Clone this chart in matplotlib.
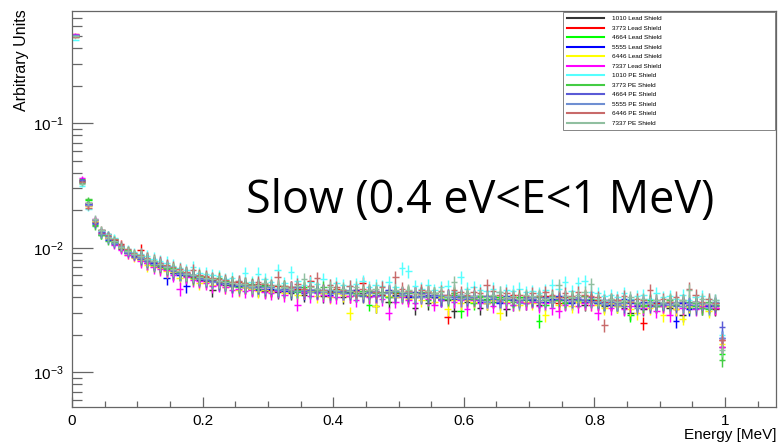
import matplotlib
matplotlib.use("Agg")

import matplotlib.pyplot as plt
import numpy as np
from matplotlib.lines import Line2D
from matplotlib.ticker import FixedLocator, FuncFormatter, LogLocator, NullFormatter

plt.rcParams["font.family"] = ["Liberation Sans", "DejaVu Sans"]
plt.rcParams["mathtext.fontset"] = "custom"
plt.rcParams["mathtext.rm"] = "Liberation Sans"
plt.rcParams["mathtext.it"] = "Liberation Sans"

# 100 energy bins of 0.01 MeV, values in units of 1e-3
bin_edges = np.linspace(0.0, 1.0, 101)

lead_1010 = [
    505, 34.5, 22, 16, 13.8, 12.8, 10.9, 9.8, 9.1, 8.6,
    8.1, 7.6, 7.4, 7.0, 6.9, 6.3, 6.2, 5.9, 5.9, 5.5,
    5.4, 4.6, 5.3, 5.0, 4.9, 5.0, 4.8, 4.7, 4.9, 4.5,
    4.6, 4.4, 4.7, 4.3, 4.5, 4.2, 4.6, 4.4, 4.1, 4.5,
    4.3, 4.0, 4.4, 4.2, 4.3, 4.1, 3.4, 4.2, 3.7, 4.2,
    4.1, 4.0, 3.3, 4.3, 3.6, 4.0, 3.9, 3.8, 3.1, 4.0,
    3.7, 3.9, 3.3, 3.6, 3.9, 3.7, 3.2, 3.8, 3.9, 3.6,
    3.8, 3.5, 3.9, 3.7, 3.8, 3.6, 3.9, 3.7, 3.5, 3.8,
    3.6, 3.4, 3.6, 3.5, 3.3, 3.0, 3.6, 3.2, 3.5, 3.4,
    3.5, 3.3, 3.6, 2.9, 3.4, 3.5, 3.3, 3.4, 3.2, 1.6,
]
lead_3773 = [
    510, 35, 23, 16.6, 13.2, 12.0, 11.5, 10.8, 9.4, 8.8,
    9.6, 8.2, 7.5, 7.3, 7.1, 6.6, 6.5, 6.3, 5.8, 5.7,
    5.8, 5.5, 5.3, 5.2, 5.1, 5.3, 4.8, 5.0, 5.1, 4.7,
    4.6, 4.9, 4.5, 4.8, 4.7, 4.4, 5.4, 4.6, 4.5, 4.4,
    4.7, 4.5, 4.1, 4.6, 5.2, 4.4, 4.5, 4.2, 4.4, 4.3,
    4.4, 4.1, 4.3, 4.2, 4.5, 4.0, 4.2, 2.8, 4.3, 3.9,
    4.1, 4.0, 3.8, 4.1, 3.7, 4.0, 3.9, 4.2, 3.8, 3.9,
    4.0, 3.7, 4.1, 3.8, 3.6, 4.0, 3.8, 3.9, 4.1, 3.7,
    3.8, 3.7, 3.5, 3.8, 3.6, 3.7, 3.4, 2.5, 3.5, 3.6,
    3.4, 3.7, 3.2, 3.6, 3.5, 3.7, 3.4, 3.6, 3.3, 1.8,
]
lead_4664 = [
    500, 36, 24, 15.2, 12.6, 12.4, 11.8, 10.3, 9.6, 8.9,
    8.6, 8.1, 7.8, 7.1, 6.8, 6.9, 6.3, 6.0, 6.1, 5.9,
    5.7, 5.6, 5.2, 5.4, 5.0, 4.9, 5.2, 4.8, 4.7, 5.0,
    4.9, 4.6, 4.8, 4.5, 4.4, 4.8, 4.5, 4.7, 4.3, 4.6,
    4.4, 4.6, 4.3, 4.2, 4.5, 3.5, 4.4, 4.3, 4.0, 4.4,
    4.2, 4.4, 4.0, 4.1, 3.8, 4.3, 3.9, 4.0, 4.2, 3.1,
    4.0, 3.6, 4.1, 3.9, 3.7, 4.0, 3.8, 3.5, 4.0, 3.8,
    3.7, 2.6, 3.5, 3.9, 3.8, 3.6, 4.0, 3.8, 3.7, 3.9,
    3.7, 3.5, 3.8, 3.4, 3.7, 2.9, 3.6, 3.5, 3.8, 3.4,
    3.6, 3.4, 3.5, 3.7, 3.3, 3.4, 3.6, 3.2, 3.5, 1.4,
]
lead_5555 = [
    515, 34, 22.5, 15.8, 12.8, 11.6, 11.3, 10.0, 9.2, 8.7,
    8.4, 7.9, 7.5, 7.5, 5.7, 6.3, 6.1, 4.9, 6.0, 5.6,
    5.5, 5.6, 5.1, 5.2, 5.0, 4.9, 5.1, 4.7, 4.6, 4.9,
    4.7, 4.6, 4.5, 4.7, 4.8, 4.3, 4.6, 4.4, 4.6, 4.2,
    4.5, 4.3, 4.5, 4.6, 4.2, 4.4, 4.1, 4.3, 4.6, 4.0,
    4.3, 4.0, 4.4, 4.1, 4.2, 4.0, 3.8, 4.1, 3.9, 4.2,
    3.9, 4.1, 3.7, 3.8, 4.0, 3.6, 4.1, 3.8, 3.7, 3.9,
    3.8, 4.0, 3.7, 3.9, 4.1, 3.8, 3.6, 3.9, 3.7, 3.8,
    3.6, 3.8, 3.5, 3.7, 3.9, 3.6, 3.4, 3.7, 3.6, 3.5,
    3.6, 3.5, 2.6, 3.6, 3.2, 3.7, 3.5, 3.4, 3.6, 1.9,
]
lead_6446 = [
    520, 33.5, 21.5, 16.4, 13.0, 11.9, 10.7, 9.9, 8.8, 8.3,
    8.0, 7.3, 7.2, 6.9, 6.5, 6.4, 5.7, 6.0, 5.6, 5.2,
    5.3, 5.0, 5.2, 4.8, 4.9, 4.6, 4.8, 4.7, 4.5, 4.6,
    4.4, 4.6, 4.3, 4.5, 4.2, 4.4, 4.5, 4.1, 4.3, 4.0,
    4.3, 4.2, 3.0, 4.3, 4.1, 4.2, 3.4, 4.3, 4.1, 4.0,
    4.1, 3.9, 4.0, 3.8, 4.1, 3.7, 4.0, 3.2, 3.8, 3.6,
    3.8, 3.7, 3.9, 3.6, 3.8, 3.0, 3.7, 3.9, 3.5, 3.7,
    3.6, 3.8, 2.9, 3.7, 3.5, 3.9, 3.4, 3.7, 3.6, 3.5,
    3.5, 3.3, 3.6, 3.4, 3.5, 3.2, 3.0, 3.4, 3.3, 3.5,
    2.9, 3.4, 3.2, 2.7, 3.4, 3.3, 3.5, 3.1, 3.4, 1.7,
]
lead_7337 = [
    525, 36.5, 22, 16.9, 13.4, 12.1, 10.6, 9.6, 8.7, 8.4,
    7.8, 7.5, 7.0, 6.8, 6.6, 6.0, 4.7, 5.8, 5.5, 5.4,
    5.2, 4.9, 5.0, 4.8, 4.6, 4.7, 4.5, 4.6, 4.8, 4.4,
    4.3, 4.5, 4.2, 4.6, 3.5, 4.4, 4.1, 4.3, 4.2, 4.1,
    4.0, 4.3, 4.1, 3.8, 4.2, 4.0, 4.1, 3.9, 3.0, 3.7,
    4.0, 3.8, 3.6, 4.0, 3.9, 3.5, 3.8, 4.1, 3.7, 3.8,
    3.2, 3.8, 3.6, 3.7, 3.4, 3.8, 3.6, 3.5, 3.7, 3.6,
    3.7, 3.4, 3.6, 3.3, 3.1, 3.5, 3.8, 3.4, 3.6, 3.5,
    3.0, 3.6, 3.3, 3.5, 3.2, 3.4, 3.5, 3.3, 3.4, 3.1,
    3.4, 2.9, 3.5, 3.3, 3.6, 3.2, 3.4, 3.5, 3.3, 1.6,
]
pe_1010 = [
    470, 31.5, 20.5, 16.0, 13.6, 12.8, 12.0, 10.6, 9.8, 9.3,
    8.9, 8.6, 8.2, 7.8, 7.6, 7.2, 6.9, 6.6, 7.0, 6.3,
    6.2, 6.0, 5.9, 5.6, 5.7, 5.4, 6.3, 5.3, 6.2, 5.6,
    5.3, 6.6, 5.2, 6.4, 5.4, 5.0, 5.3, 5.1, 5.6, 5.0,
    5.2, 5.0, 4.9, 5.1, 5.4, 4.8, 5.0, 4.9, 5.3, 4.8,
    6.9, 6.5, 4.9, 4.7, 5.0, 4.6, 4.8, 4.9, 4.5, 5.8,
    4.7, 4.8, 4.6, 4.5, 4.7, 4.4, 4.6, 4.5, 4.7, 4.4,
    4.5, 4.3, 4.6, 5.0, 4.7, 5.3, 4.5, 5.2, 5.4, 4.4,
    4.3, 4.1, 4.2, 4.0, 4.3, 3.9, 4.1, 4.2, 3.9, 4.3,
    4.0, 4.1, 3.9, 4.2, 3.8, 4.0, 4.1, 3.9, 3.8, 2.0,
]
pe_3773 = [
    495, 33, 24.5, 15.0, 12.7, 11.4, 11.2, 10.1, 9.5, 8.9,
    8.4, 7.8, 7.3, 7.2, 6.9, 6.8, 6.4, 6.2, 5.7, 5.9,
    5.6, 5.4, 5.7, 5.1, 5.3, 4.8, 5.0, 5.1, 4.8, 4.9,
    4.8, 4.7, 4.9, 4.5, 4.6, 4.7, 4.4, 4.6, 4.8, 4.3,
    4.6, 4.4, 4.5, 4.3, 4.2, 4.5, 4.3, 4.4, 4.0, 4.4,
    4.2, 4.3, 4.1, 4.4, 4.0, 4.2, 4.1, 3.9, 4.3, 4.0,
    4.1, 3.9, 4.0, 3.8, 4.1, 3.9, 4.0, 3.7, 3.9, 4.0,
    3.9, 4.0, 3.8, 4.1, 3.9, 3.7, 4.0, 3.8, 4.1, 3.9,
    3.7, 3.6, 3.8, 3.5, 3.7, 3.8, 3.6, 3.4, 3.7, 3.5,
    3.6, 3.8, 3.5, 3.4, 3.7, 3.6, 3.3, 3.7, 3.5, 1.25,
]
pe_4664 = [
    515, 35, 23, 15.5, 13.3, 12.5, 10.8, 10.1, 9.0, 8.5,
    8.2, 7.9, 7.7, 7.2, 7.0, 6.5, 6.3, 6.1, 5.9, 5.7,
    5.5, 5.4, 5.2, 5.3, 4.9, 5.1, 4.9, 5.0, 4.8, 4.7,
    4.8, 4.6, 4.7, 4.4, 4.8, 4.5, 4.6, 4.4, 4.5, 4.3,
    4.4, 4.5, 4.3, 4.5, 4.1, 4.4, 4.2, 4.3, 4.4, 4.1,
    4.3, 4.2, 4.0, 4.3, 4.1, 4.2, 3.9, 4.2, 4.0, 4.1,
    3.9, 4.0, 3.8, 4.1, 3.9, 3.7, 4.0, 3.9, 3.8, 4.0,
    3.9, 3.7, 4.0, 3.8, 3.9, 4.1, 3.7, 3.9, 3.8, 4.0,
    3.7, 3.5, 3.7, 3.6, 3.4, 3.8, 3.5, 3.6, 3.4, 3.7,
    3.5, 3.6, 3.4, 3.7, 3.5, 3.3, 3.6, 3.5, 3.4, 2.3,
]
pe_5555 = [
    510, 34, 22, 16.8, 13.0, 11.8, 11.0, 10.4, 9.2, 8.7,
    8.5, 8.0, 7.4, 7.4, 7.1, 6.6, 6.2, 6.3, 6.0, 5.6,
    5.6, 5.3, 5.4, 5.1, 5.2, 5.0, 4.9, 4.8, 5.0, 4.8,
    4.9, 4.7, 4.6, 4.8, 4.5, 4.6, 4.4, 4.7, 4.4, 4.6,
    4.5, 4.3, 4.6, 4.2, 4.4, 4.3, 4.5, 4.1, 4.3, 4.5,
    4.2, 4.4, 4.1, 4.0, 4.3, 4.1, 4.2, 4.0, 4.1, 3.9,
    4.0, 4.1, 3.9, 3.7, 4.0, 3.8, 3.9, 4.0, 3.6, 3.9,
    4.0, 3.8, 3.9, 3.7, 4.0, 3.9, 3.8, 4.0, 3.9, 3.7,
    3.7, 3.6, 3.8, 3.5, 3.6, 3.7, 3.3, 3.6, 3.7, 3.5,
    3.6, 3.5, 3.7, 3.4, 3.6, 3.5, 3.6, 3.3, 3.7, 1.9,
]
pe_6446 = [
    490, 33.5, 21, 16.2, 14.0, 12.6, 11.7, 10.5, 9.7, 9.1,
    8.7, 8.3, 7.9, 7.6, 7.3, 7.0, 6.7, 6.4, 6.6, 6.0,
    5.9, 5.7, 5.6, 5.5, 5.3, 5.4, 5.2, 5.0, 5.3, 5.1,
    5.0, 5.8, 4.9, 4.8, 5.1, 4.7, 4.9, 5.7, 4.6, 5.0,
    4.8, 4.6, 4.9, 4.5, 4.7, 4.6, 4.4, 4.8, 4.5, 5.8,
    4.7, 4.5, 4.3, 4.6, 4.4, 4.3, 4.5, 4.2, 4.6, 4.4,
    4.2, 4.4, 4.3, 5.0, 4.5, 4.2, 4.3, 4.0, 4.2, 4.1,
    4.3, 4.1, 4.4, 4.2, 4.0, 4.3, 4.1, 4.4, 4.2, 4.1,
    4.0, 2.4, 3.9, 3.8, 4.1, 3.7, 3.9, 3.8, 4.6, 3.8,
    3.9, 3.7, 4.0, 3.8, 4.7, 4.2, 3.7, 3.9, 3.6, 1.8,
]
pe_7337 = [
    500, 32.5, 22.8, 17.0, 13.9, 12.2, 11.4, 10.2, 9.4, 8.9,
    8.6, 8.1, 7.8, 7.4, 7.0, 6.7, 6.5, 6.2, 6.0, 5.8,
    5.7, 5.6, 5.4, 5.3, 5.2, 5.1, 5.1, 4.9, 5.0, 5.2,
    4.9, 5.0, 4.8, 4.7, 4.9, 5.6, 4.8, 4.7, 4.5, 4.8,
    4.6, 4.7, 4.5, 4.8, 4.4, 4.6, 4.7, 4.3, 4.5, 4.6,
    4.4, 4.6, 4.3, 4.2, 4.5, 4.3, 4.4, 4.1, 5.3, 4.2,
    4.3, 4.1, 4.2, 4.0, 4.2, 4.4, 4.0, 4.1, 3.9, 4.2,
    4.1, 4.2, 3.9, 4.0, 5.0, 4.1, 4.0, 4.2, 4.4, 5.1,
    3.9, 3.8, 3.9, 3.7, 3.8, 4.0, 3.7, 3.9, 3.6, 3.8,
    3.7, 3.9, 3.6, 3.8, 4.6, 3.7, 3.9, 3.6, 3.8, 1.5,
]

series = [
    ("1010 Lead Shield", lead_1010, "#333333"),
    ("3773 Lead Shield", lead_3773, "#ff0000"),
    ("4664 Lead Shield", lead_4664, "#00ff00"),
    ("5555 Lead Shield", lead_5555, "#0000ff"),
    ("6446 Lead Shield", lead_6446, "#ffff00"),
    ("7337 Lead Shield", lead_7337, "#ff00ff"),
    ("1010 PE Shield", pe_1010, "#55ffff"),
    ("3773 PE Shield", pe_3773, "#44cc44"),
    ("4664 PE Shield", pe_4664, "#5a5ad6"),
    ("5555 PE Shield", pe_5555, "#6f8fd2"),
    ("6446 PE Shield", pe_6446, "#c86a6a"),
    ("7337 PE Shield", pe_7337, "#90bfa0"),
]

# statistical error, relative to bin content
rel_err = np.full(100, 0.12)
rel_err[:3] = [0.01, 0.03, 0.04]
rel_err[3:10] = 0.07

centers = 0.5 * (bin_edges[:-1] + bin_edges[1:])
half_w = 0.5 * np.diff(bin_edges)

fig = plt.figure(figsize=(7.78, 4.44), dpi=100)
ax = fig.add_axes([72 / 778, 37 / 444, 704 / 778, 396 / 444])

frame_col = "#666666"
handles = []
for name, vals, col in series:
    y = np.array(vals) * 1e-3
    ax.errorbar(centers, y, xerr=half_w, yerr=y * rel_err, fmt="none",
                ecolor=col, elinewidth=1.05, capsize=0)
    handles.append(Line2D([], [], color=col, lw=1.5, label=name))

ax.set_yscale("log")
ax.set_xlim(0, 1.078)
ax.set_ylim(5.26e-4, 0.798)

ax.xaxis.set_major_locator(FixedLocator([0, 0.2, 0.4, 0.6, 0.8, 1.0]))
ax.xaxis.set_minor_locator(FixedLocator(np.arange(0, 1.08, 0.05)))
ax.xaxis.set_major_formatter(FuncFormatter(lambda v, p: f"{v:g}"))
ax.yaxis.set_major_locator(LogLocator(base=10, numticks=10))
ax.yaxis.set_minor_locator(LogLocator(base=10, subs=np.arange(2, 10), numticks=20))
ax.yaxis.set_minor_formatter(NullFormatter())

ax.tick_params(axis="both", which="both", direction="in", colors=frame_col,
               labelcolor="black", labelsize=11, top=False, right=False)
ax.tick_params(axis="y", which="major", length=15, width=0.9, pad=6)
ax.tick_params(axis="y", which="minor", length=7.5, width=0.9)
ax.tick_params(axis="x", which="major", length=7, width=0.9, pad=5)
ax.tick_params(axis="x", which="minor", length=4, width=0.9)
for sp in ax.spines.values():
    sp.set_color(frame_col)
    sp.set_linewidth(0.9)

leg = ax.legend(handles=handles, loc="upper left", mode="expand",
                bbox_to_anchor=(491 / 704, 0.9975, 212 / 704, 0.0),
                fontsize=4.6, handlelength=5.8, handletextpad=1.25,
                labelspacing=0.63, borderpad=0.6, frameon=True,
                fancybox=False, edgecolor=frame_col, borderaxespad=0)
leg.get_frame().set_linewidth(0.7)

fig.text(22 / 778, 1 - 9 / 444, "Arbitrary Units", rotation=90,
         ha="center", va="top", fontsize=11.5)
fig.text(776 / 778, 1 - 435 / 444, "Energy [MeV]", ha="right",
         va="center", fontsize=11)
fig.text(480 / 778, 1 - 213 / 444, "Slow (0.4 eV<E<1 MeV)",
         family=["Open Sans", "DejaVu Sans"], fontsize=32.3,
         ha="center", va="baseline")

fig.savefig("out.png", dpi=100)
